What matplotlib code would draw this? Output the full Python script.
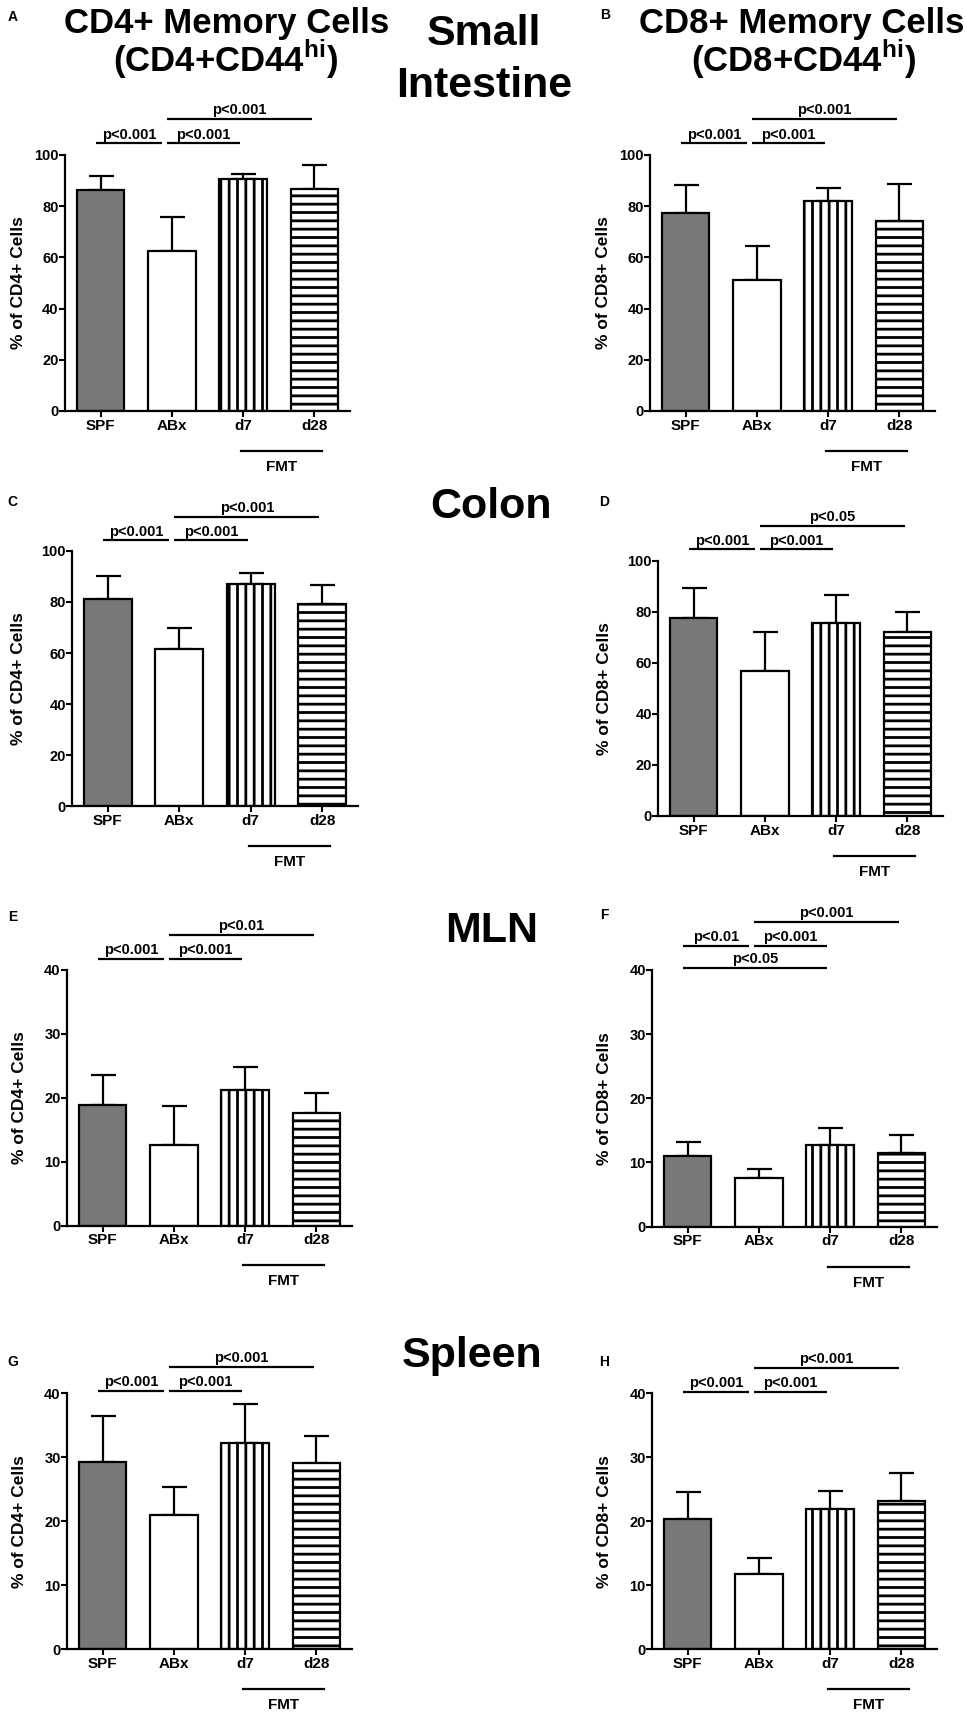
import matplotlib
matplotlib.use("Agg")
import matplotlib.pyplot as plt
import numpy as np
from matplotlib.transforms import blended_transform_factory

plt.rcParams['font.family'] = ['Liberation Sans', 'DejaVu Sans']
plt.rcParams['font.weight'] = 'bold'
plt.rcParams['mathtext.fontset'] = 'custom'
plt.rcParams['mathtext.bf'] = 'Liberation Sans:bold'
plt.rcParams['mathtext.rm'] = 'Liberation Sans:bold'
plt.rcParams['hatch.linewidth'] = 2.0
plt.rcParams['hatch.color'] = 'black'

# ---------------- data ----------------
categories = ["SPF", "ABx", "d7", "d28"]

A_mean = [86.3, 62.6, 90.6, 86.8]
A_err = [5.5, 13.3, 2.1, 9.2]
B_mean = [77.2, 51.0, 81.9, 74.2]
B_err = [11.1, 13.6, 5.3, 14.3]
C_mean = [81.2, 61.5, 86.8, 79.0]
C_err = [9.1, 8.4, 4.6, 7.5]
D_mean = [77.7, 56.9, 75.5, 72.2]
D_err = [11.7, 15.3, 10.9, 7.8]
E_mean = [18.8, 12.6, 21.2, 17.6]
E_err = [4.7, 6.1, 3.6, 3.15]
F_mean = [11.0, 7.6, 12.7, 11.5]
F_err = [2.25, 1.4, 2.6, 2.8]
G_mean = [29.2, 21.0, 32.2, 29.1]
G_err = [7.3, 4.4, 6.2, 4.2]
H_mean = [20.4, 11.7, 22.0, 23.1]
H_err = [4.2, 2.5, 2.8, 4.5]

ylabel_cd4 = "% of CD4+ Cells"
ylabel_cd8 = "% of CD8+ Cells"
yticks_100 = [0, 20, 40, 60, 80, 100]
yticks_40 = [0, 10, 20, 30, 40]

comp_std = [(0, 1, "p<0.001"), (1, 2, "p<0.001"), (1, 3, "p<0.001")]
comp_D = [(0, 1, "p<0.001"), (1, 2, "p<0.001"), (1, 3, "p<0.05")]
comp_E = [(0, 1, "p<0.001"), (1, 2, "p<0.001"), (1, 3, "p<0.01")]
comp_F = [(0, 1, "p<0.01"), (1, 2, "p<0.001"), (1, 3, "p<0.001"), (0, 2, "p<0.05")]

group_label = "FMT"
section_titles = ["Small\nIntestine", "Colon", "MLN", "Spleen"]

# ---------------- layout / style ----------------
W, H = 965, 1712
fig = plt.figure(figsize=(W / 100, H / 100), dpi=100)

fills = ['#787878', 'white', 'white', 'white']
hatches = [None, None, '||', '--']

panels = [
    # letter, mean, err, ylabel, yticks, comps, levels, rect px (left, right, top, y0), letter pos, ylabel x px
    ("A", A_mean, A_err, ylabel_cd4, yticks_100, comp_std, [104.6, 104.6, 114.0], (65, 350, 155, 411), (13, 17), 18.5),
    ("B", B_mean, B_err, ylabel_cd8, yticks_100, comp_std, [104.6, 104.6, 114.0], (650, 935, 155, 411), (605, 15), 603),
    ("C", C_mean, C_err, ylabel_cd4, yticks_100, comp_std, [104.0, 104.0, 113.2], (72, 358, 550.7, 806.5), (12, 502), 19),
    ("D", D_mean, D_err, ylabel_cd8, yticks_100, comp_D, [104.4, 104.4, 113.6], (658, 943, 560.7, 816), (604, 502), 604.5),
    ("E", E_mean, E_err, ylabel_cd4, yticks_40, comp_E, [41.8, 41.8, 45.5], (67, 352, 970, 1225.5), (13, 917), 19.5),
    ("F", F_mean, F_err, ylabel_cd8, yticks_40, comp_F, [43.8, 43.8, 47.5, 40.3], (652, 937, 970, 1226.5), (604, 915), 604.5),
    ("G", G_mean, G_err, ylabel_cd4, yticks_40, comp_std, [40.4, 40.4, 44.1], (67, 352, 1393.3, 1649.3), (13, 1362), 19.5),
    ("H", H_mean, H_err, ylabel_cd8, yticks_40, comp_std, [40.2, 40.2, 44.0], (652, 937, 1393.3, 1649.3), (604, 1362), 604.5),
]

x = np.arange(len(categories))
for letter, mean, err, ylab, yt, comps, levels, rect, lpos, ylx in panels:
    l, r, t, y0 = rect
    ax = fig.add_axes([l / W, 1 - y0 / H, (r - l) / W, (y0 - t) / H])
    ax.errorbar(x, mean, yerr=[np.zeros(len(mean)), err], fmt='none', ecolor='black',
                elinewidth=1.6, capsize=9, capthick=1.6, zorder=1)
    for i in range(len(categories)):
        ax.bar(x[i], mean[i], width=0.67, color=fills[i], edgecolor='black',
               linewidth=1.6, hatch=hatches[i], zorder=2)
    ax.set_xlim(-0.5, 3.5)
    ax.set_ylim(0, yt[-1])
    ax.set_yticks(yt)
    ax.set_xticks(x)
    ax.set_xticklabels(categories, fontsize=11, fontweight='bold')
    ax.tick_params(axis='y', length=4, width=1.5, pad=0.5, labelsize=10.5)
    ax.tick_params(axis='x', length=4, width=1.5, pad=1.5, labelsize=11)
    for lab in ax.get_yticklabels():
        lab.set_fontweight('bold')
    for s in ['top', 'right']:
        ax.spines[s].set_visible(False)
    for s in ['left', 'bottom']:
        ax.spines[s].set_linewidth(1.6)
    ax.set_ylabel(ylab, fontsize=12.5, fontweight='bold', va='center')
    ax.yaxis.set_label_coords(ylx / W, 0.5,
                              transform=blended_transform_factory(fig.transFigure, ax.transAxes))
    # significance bars
    for (i, j, txt), lev in zip(comps, levels):
        x0 = i - 0.06 if i == 0 else i - 0.07
        x1 = 0.86 if j == 1 else j - 0.04
        ax.plot([x0, x1], [lev, lev], color='black', lw=1.6, clip_on=False, solid_capstyle='butt')
        ax.annotate(txt, xy=((x0 + x1) / 2, lev), xytext=(0, 1.2), textcoords='offset points',
                    ha='center', va='bottom', fontsize=10.5, fontweight='bold', annotation_clip=False)
    # FMT group line
    tr = ax.get_xaxis_transform()
    ax.plot([1.97, 3.11], [-40 / 256, -40 / 256], color='black', lw=1.6, transform=tr, clip_on=False)
    ax.text(2.54, -56 / 256, group_label, transform=tr, ha='center', va='center',
            fontsize=11, fontweight='bold')
    # panel letter
    fig.text(lpos[0] / W, 1 - lpos[1] / H, letter, ha='center', va='center', fontsize=10, fontweight='bold')

# column titles
fig.text(227 / W, 1 - 33.3 / H, "CD4+ Memory Cells", ha='center', va='baseline', fontsize=25, fontweight='bold')
fig.text(226 / W, 1 - 71.7 / H, r"(CD4+CD44$^{\mathbf{hi}}$)", ha='center', va='baseline', fontsize=25, fontweight='bold')
fig.text(802 / W, 1 - 33.3 / H, "CD8+ Memory Cells", ha='center', va='baseline', fontsize=25, fontweight='bold')
fig.text(804 / W, 1 - 71.7 / H, r"(CD8+CD44$^{\mathbf{hi}}$)", ha='center', va='baseline', fontsize=25, fontweight='bold')

# section titles
fig.text(484 / W, 1 - 45 / H, section_titles[0].split("\n")[0], ha='center', va='baseline', fontsize=31, fontweight='bold')
fig.text(484 / W, 1 - 96.7 / H, section_titles[0].split("\n")[1], ha='center', va='baseline', fontsize=31, fontweight='bold')
fig.text(491.5 / W, 1 - 518.5 / H, section_titles[1], ha='center', va='baseline', fontsize=31, fontweight='bold')
fig.text(491.5 / W, 1 - 941.7 / H, section_titles[2], ha='center', va='baseline', fontsize=31, fontweight='bold')
fig.text(472.5 / W, 1 - 1366.7 / H, section_titles[3], ha='center', va='baseline', fontsize=31, fontweight='bold')

fig.savefig("out.png", dpi=100, facecolor='white')
